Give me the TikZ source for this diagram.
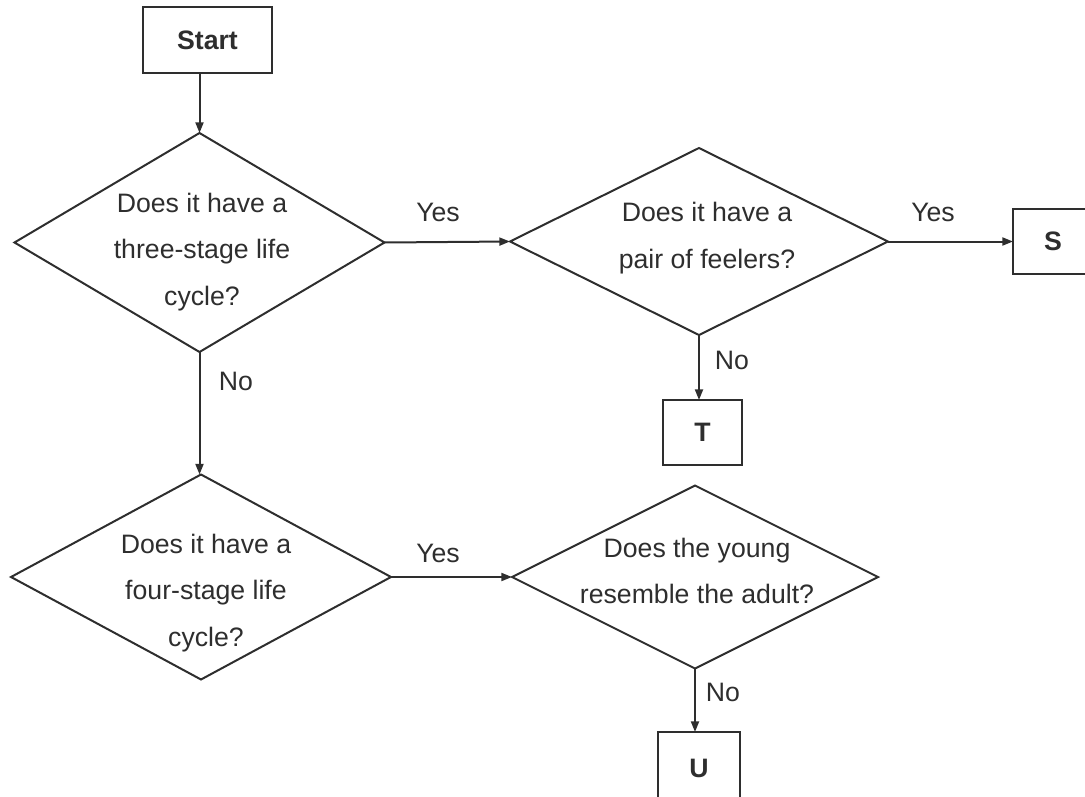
\documentclass[tikz,border=0pt]{standalone}
\usepackage{fontspec}
\setmainfont{Liberation Sans}
\usetikzlibrary{arrows.meta,shapes.geometric}
\definecolor{ink}{HTML}{2E2E2E}
\begin{document}
\begin{tikzpicture}[x=0.75pt,y=-0.75pt,
  line/.style={draw=ink, line width=1.5pt},
  box/.style={draw=ink, line width=1.5pt, rectangle, inner sep=0pt, outer sep=0pt,
    font=\fontsize{20}{24}\selectfont\bfseries, text=ink},
  dia/.style={draw=ink, line width=1.5pt, diamond, inner sep=0pt, outer sep=0pt},
  qtext/.style={align=center, font=\fontsize{20}{35}\selectfont, text=ink, inner sep=0pt},
  lbl/.style={font=\fontsize{20}{24}\selectfont, text=ink, inner sep=0pt},
  arr/.style={line, -{Triangle[length=8pt,width=6pt]}}]
\useasboundingbox (0,0) rectangle (1085,796);

% boxes
\node[box, minimum width=96.75pt, minimum height=49.5pt] (start) at (207.5,40) {Start};
\node[box, minimum width=60pt, minimum height=48.75pt] (s) at (1053,241.5) {S};
\node[box, minimum width=59.25pt, minimum height=48.75pt] (t) at (702.5,432.5) {T};
\node[box, minimum width=61.5pt, minimum height=54pt] (u) at (699,768) {U};

% decision diamonds
\node[dia, minimum width=277.5pt, minimum height=164.25pt] (d1) at (199.5,242.5) {};
\node[dia, minimum width=283.5pt, minimum height=140.25pt] (d2) at (699,241.5) {};
\node[dia, minimum width=285pt, minimum height=153.75pt] (d3) at (201,577) {};
\node[dia, minimum width=274.5pt, minimum height=137.25pt] (d4) at (695,577) {};

% question texts
\node[qtext] (q1) at (202,252) {Does it have a\\three-stage life\\cycle?};
\node[qtext] (q2) at (707,238) {Does it have a\\pair of feelers?};
\node[qtext] (q3) at (206,593) {Does it have a\\four-stage life\\cycle?};
\node[qtext] (q4) at (697,571) {Does the young\\resemble the adult?};

% connectors
\draw[arr] (start.south -| d1.north) -- (d1.north);
\draw[arr] (d1.east) -- (d2.west);
\draw[arr] (d2.east) -- (s.west);
\draw[arr] (d2.south) -- (d2.south |- t.north);
\draw[arr] (d1.south) -- (d1.south |- d3.north);
\draw[arr] (d3.east) -- (d4.west);
\draw[arr] (d4.south) -- (d4.south |- u.north);

% labels
\node[lbl] (yes1) at (438,212) {Yes};
\node[lbl] (yes2) at (933,212) {Yes};
\node[lbl] (no1) at (236,381) {No};
\node[lbl] (no2) at (732,360) {No};
\node[lbl] (yes3) at (438,553) {Yes};
\node[lbl] (no3) at (723,692) {No};
\end{tikzpicture}
\end{document}
